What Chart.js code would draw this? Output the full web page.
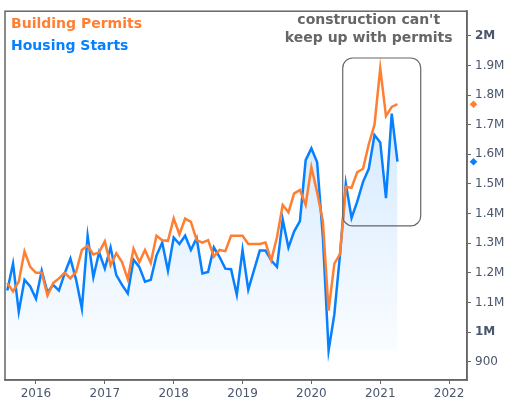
<!DOCTYPE html>
<html>
<head>
<meta charset="utf-8">
<title>Building Permits vs Housing Starts</title>
<script src="https://cdn.jsdelivr.net/npm/chart.js@4.4.1/dist/chart.umd.min.js"></script>
<style>
  html, body { margin: 0; padding: 0; background: #fff; }
  #chart { display: block; }
</style>
</head>
<body>
<canvas id="chart" width="525" height="399"></canvas>
<script>
// Monthly values, seasonally adjusted annual rate, thousands of units
var months = [
  "2015-08", "2015-09", "2015-10", "2015-11", "2015-12",
  "2016-01", "2016-02", "2016-03", "2016-04", "2016-05", "2016-06",
  "2016-07", "2016-08", "2016-09", "2016-10", "2016-11", "2016-12",
  "2017-01", "2017-02", "2017-03", "2017-04", "2017-05", "2017-06",
  "2017-07", "2017-08", "2017-09", "2017-10", "2017-11", "2017-12",
  "2018-01", "2018-02", "2018-03", "2018-04", "2018-05", "2018-06",
  "2018-07", "2018-08", "2018-09", "2018-10", "2018-11", "2018-12",
  "2019-01", "2019-02", "2019-03", "2019-04", "2019-05", "2019-06",
  "2019-07", "2019-08", "2019-09", "2019-10", "2019-11", "2019-12",
  "2020-01", "2020-02", "2020-03", "2020-04", "2020-05", "2020-06",
  "2020-07", "2020-08", "2020-09", "2020-10", "2020-11", "2020-12",
  "2021-01", "2021-02", "2021-03", "2021-04"
];

var permits = [
  1165, 1137, 1170, 1272, 1220,
  1200, 1200, 1123, 1165, 1181, 1200, 1181, 1203, 1277, 1292, 1262, 1269,
  1306, 1225, 1266, 1236, 1178, 1281, 1236, 1277, 1233, 1325, 1310, 1308,
  1383, 1330, 1383, 1372, 1310, 1302, 1310, 1255, 1277, 1273, 1325, 1325,
  1325, 1297, 1297, 1297, 1302, 1242, 1320, 1429, 1404, 1468, 1479, 1429,
  1556, 1471, 1374, 1072, 1231, 1264, 1490, 1487, 1540, 1551, 1634, 1700,
  1890, 1729, 1760, 1769
];

var starts = [
  1140, 1231, 1068, 1176, 1154,
  1112, 1207, 1134, 1159, 1140, 1198, 1248, 1176, 1079, 1325, 1185, 1269,
  1214, 1286, 1192, 1159, 1130, 1244, 1220, 1170, 1176, 1258, 1302, 1207,
  1319, 1297, 1325, 1277, 1317, 1198, 1203, 1286, 1253, 1214, 1212, 1126,
  1277, 1143, 1209, 1275, 1275, 1242, 1220, 1380, 1285, 1340, 1374, 1580,
  1620, 1573, 1320, 938, 1060, 1265, 1501, 1385, 1441, 1507, 1551, 1665,
  1640, 1452, 1737, 1575
];

var yearTicks = [2016, 2017, 2018, 2019, 2020, 2021, 2022];
var valueTicks = [900, 1000, 1100, 1200, 1300, 1400, 1500, 1600, 1700, 1800, 1900, 2000];

var seriesNames = ["Building Permits", "Housing Starts"];
var orange = "#ff7f32";
var blue = "#0780ff";
var gray = "#666666";
var tickColor = "#4a566c";
var fontFamily = "'DejaVu Sans', Verdana, sans-serif";

// callout box, in axis units (decimal year, thousands)
var callout = { x0: 2020.455, x1: 2021.588, y0: 1358, y1: 1925 };

function toYear(m) {
  var parts = m.split("-");
  return parseInt(parts[0]) + (parseInt(parts[1]) - 1) / 12;
}

function toPoints(values) {
  return values.map(function (v, i) {
    return { x: toYear(months[i]), y: v };
  });
}

function roundedRect(ctx, x, y, w, h, r) {
  ctx.beginPath();
  ctx.moveTo(x + r, y);
  ctx.lineTo(x + w - r, y);
  ctx.arcTo(x + w, y, x + w, y + r, r);
  ctx.lineTo(x + w, y + h - r);
  ctx.arcTo(x + w, y + h, x + w - r, y + h, r);
  ctx.lineTo(x + r, y + h);
  ctx.arcTo(x, y + h, x, y + h - r, r);
  ctx.lineTo(x, y + r);
  ctx.arcTo(x, y, x + r, y, r);
  ctx.closePath();
}

function diamond(ctx, x, y, s, color) {
  ctx.beginPath();
  ctx.moveTo(x, y - s);
  ctx.lineTo(x + s, y);
  ctx.lineTo(x, y + s);
  ctx.lineTo(x - s, y);
  ctx.closePath();
  ctx.fillStyle = color;
  ctx.fill();
}

// frame, callout, titles and last-value markers
var decorations = {
  id: "decorations",
  afterDraw: function (chart) {
    var ctx = chart.ctx;
    var area = chart.chartArea;
    var xs = chart.scales.x;
    var ys = chart.scales.y;
    ctx.save();

    ctx.strokeStyle = gray;
    ctx.lineWidth = 1.5;
    ctx.strokeRect(area.left, area.top, area.right - area.left, area.bottom - area.top);

    var bx0 = xs.getPixelForValue(callout.x0);
    var bx1 = xs.getPixelForValue(callout.x1);
    var by0 = ys.getPixelForValue(callout.y1);
    var by1 = ys.getPixelForValue(callout.y0);
    ctx.lineWidth = 1.2;
    roundedRect(ctx, bx0, by0, bx1 - bx0, by1 - by0, 10);
    ctx.stroke();

    ctx.font = "bold 14px " + fontFamily;
    ctx.textBaseline = "middle";
    ctx.textAlign = "left";
    ctx.fillStyle = orange;
    ctx.fillText(seriesNames[0], 11, 24);
    ctx.fillStyle = blue;
    ctx.fillText(seriesNames[1], 11, 46.5);

    ctx.textAlign = "center";
    ctx.fillStyle = gray;
    var cx = (bx0 + bx1) / 2 - 13;
    ctx.fillText("construction can't", cx, 20);
    ctx.fillText("keep up with permits", cx, 38.5);

    diamond(ctx, area.right + 6.5, ys.getPixelForValue(permits[permits.length - 1]), 3.8, orange);
    diamond(ctx, area.right + 6.5, ys.getPixelForValue(starts[starts.length - 1]), 3.8, blue);

    ctx.restore();
  }
};

Chart.defaults.font.family = fontFamily;

var ctx1 = document.getElementById("chart").getContext("2d");
var myChart = new Chart(ctx1, {
  type: "line",
  data: {
    datasets: [
      {
        label: seriesNames[0],
        data: toPoints(permits),
        borderColor: orange,
        borderWidth: 2.5,
        pointRadius: 0,
        tension: 0,
        fill: false,
      },
      {
        label: seriesNames[1],
        data: toPoints(starts),
        borderColor: blue,
        borderWidth: 2.5,
        pointRadius: 0,
        tension: 0,
        fill: { value: Math.min.apply(null, starts) },
        backgroundColor: function (context) {
          var chart = context.chart;
          var area = chart.chartArea;
          if (!area) return "rgba(7,128,255,0.1)";
          var g = chart.ctx.createLinearGradient(0, area.top, 0, area.bottom);
          g.addColorStop(0, "rgba(7,128,255,0.24)");
          g.addColorStop(1, "rgba(7,128,255,0.0)");
          return g;
        },
      },
    ],
  },
  options: {
    responsive: false,
    animation: false,
    devicePixelRatio: 1,
    layout: { padding: { left: 5, top: 6, right: 0, bottom: 0 } },
    plugins: {
      legend: { display: false },
      tooltip: { enabled: false },
    },
    scales: {
      x: {
        type: "linear",
        min: 2015.55,
        max: 2022.26,
        afterBuildTicks: function (scale) {
          scale.ticks = yearTicks.map(function (v) { return { value: v }; });
        },
        afterFit: function (scale) { scale.height = 19; },
        grid: { drawOnChartArea: false, drawTicks: true, tickLength: 4, tickColor: gray },
        border: { display: true, color: gray, width: 1.5 },
        ticks: {
          autoSkip: false,
          maxRotation: 0,
          padding: 3,
          color: tickColor,
          font: { size: 12 },
          callback: function (v) { return String(v); },
        },
      },
      y: {
        type: "linear",
        position: "right",
        min: 838,
        max: 2083,
        afterBuildTicks: function (scale) {
          scale.ticks = valueTicks.map(function (v) { return { value: v }; });
        },
        afterFit: function (scale) { scale.width = 58; },
        grid: { drawOnChartArea: false, drawTicks: true, tickLength: 4, tickColor: gray },
        border: { display: true, color: gray, width: 1.5 },
        ticks: {
          autoSkip: false,
          padding: 4,
          color: tickColor,
          font: function (c) {
            var bold = c.tick && c.tick.value % 1000 === 0;
            return { size: 12, weight: bold ? "bold" : "normal" };
          },
          callback: function (v) {
            return v >= 1000 ? v / 1000 + "M" : String(v);
          },
        },
      },
    },
  },
  plugins: [decorations],
});
</script>
</body>
</html>
